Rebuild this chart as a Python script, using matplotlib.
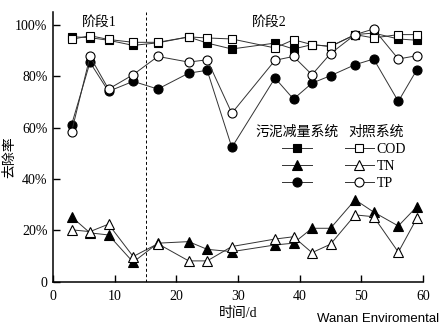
import numpy as np
import matplotlib
matplotlib.use("Agg")
import matplotlib.pyplot as plt

plt.rcParams['font.family'] = ['Liberation Serif', 'Noto Sans CJK SC']

# 取样时间 (d)
days = [3, 6, 9, 13, 17, 22, 25, 29, 36, 39, 42, 45, 49, 52, 56, 59]

# 去除率 (%) - 污泥减量系统
cod_sludge = [95.4, 95.0, 94.0, 92.0, 93.0, 95.3, 92.9, 90.6, 92.9, 90.6, 92.3, 91.6, 96.2, 96.8, 94.5, 94.0]
tn_sludge = [25.3, 19.0, 18.2, 7.6, 15.0, 15.6, 12.6, 11.7, 14.3, 15.0, 20.8, 20.8, 31.9, 27.1, 21.7, 29.2]
tp_sludge = [61.0, 85.4, 74.1, 78.0, 75.0, 81.2, 82.3, 52.3, 79.3, 71.1, 77.3, 80.2, 84.5, 86.7, 70.2, 82.5]

# 去除率 (%) - 对照系统
cod_ctrl = [94.3, 95.8, 94.3, 93.2, 93.2, 95.3, 94.9, 94.5, 91.0, 94.2, 92.3, 91.6, 96.2, 94.9, 96.2, 96.2]
tn_ctrl = [20.2, 19.5, 22.4, 9.8, 14.8, 8.1, 8.1, 13.7, 16.6, 17.5, 11.3, 14.6, 26.0, 25.3, 11.5, 24.7]
tp_ctrl = [58.2, 87.7, 75.0, 80.6, 87.7, 85.5, 86.4, 65.6, 86.2, 87.7, 80.6, 88.8, 96.2, 98.4, 86.7, 88.0]

yticks = [0, 20, 40, 60, 80, 100]
ytick_labels = ['0', '20%', '40%', '60%', '80%', '100%']
stage_split = 15

fig = plt.figure(figsize=(4.41, 3.27), dpi=100)
ax = fig.add_axes([53/441, 1 - 281.7/327, 370/441, 269.7/327])

lc = '#333333'
kw = dict(color=lc, lw=0.7, markeredgecolor='black', markeredgewidth=0.8)

series = [
    (cod_sludge, 's', 'black', 6.0),
    (tn_sludge, '^', 'black', 7.0),
    (tp_sludge, 'o', 'black', 6.5),
    (cod_ctrl, 's', 'white', 6.0),
    (tn_ctrl, '^', 'white', 7.0),
    (tp_ctrl, 'o', 'white', 6.5),
]
handles = []
for vals, mk, fc, ms in series:
    h, = ax.plot(days, vals, marker=mk, markerfacecolor=fc, markersize=ms, **kw)
    handles.append(h)

ax.axvline(stage_split, color='black', lw=0.7, ls=(0, (3, 2.5)))

ax.set_xlim(0, 60)
ax.set_ylim(0, 105)
ax.set_xticks([0, 10, 20, 30, 40, 50, 60])
ax.set_yticks(yticks)
ax.set_yticklabels(ytick_labels)
ax.tick_params(direction='in', length=5, width=1, labelsize=10, pad=4)
ax.tick_params(axis='x', pad=6)
for s in ['top', 'right']:
    ax.spines[s].set_visible(False)
for s in ['left', 'bottom']:
    ax.spines[s].set_linewidth(1.1)

ax.set_xlabel('时间/d', fontsize=10, labelpad=3)
ax.set_ylabel('去除率', fontsize=10)
ax.yaxis.set_label_coords(-0.100, 0.462)

ax.text(4.7, 101.2, '阶段1', fontsize=10, va='center')
ax.text(32.3, 101.2, '阶段2', fontsize=10, va='center')

# 图例
fig.text(255/441, 1 - 132/327, '污泥减量系统', fontsize=10, va='center')
fig.text(348/441, 1 - 132/327, '对照系统', fontsize=10, va='center')
ax.legend(handles, ['', '', '', 'COD', 'TN', 'TP'], ncol=2, frameon=False,
          loc='upper left', bbox_to_anchor=(282/441, 1 - 143/327),
          bbox_transform=fig.transFigure, borderpad=0, borderaxespad=0,
          handlelength=2.15, handletextpad=0.15, columnspacing=2.2,
          labelspacing=0.28, fontsize=10)

fig.text(317/441, 1 - 319/327, 'Wanan Enviromental', fontsize=9.5,
         family='Liberation Sans', va='center')

fig.savefig('out.png', dpi=100)
